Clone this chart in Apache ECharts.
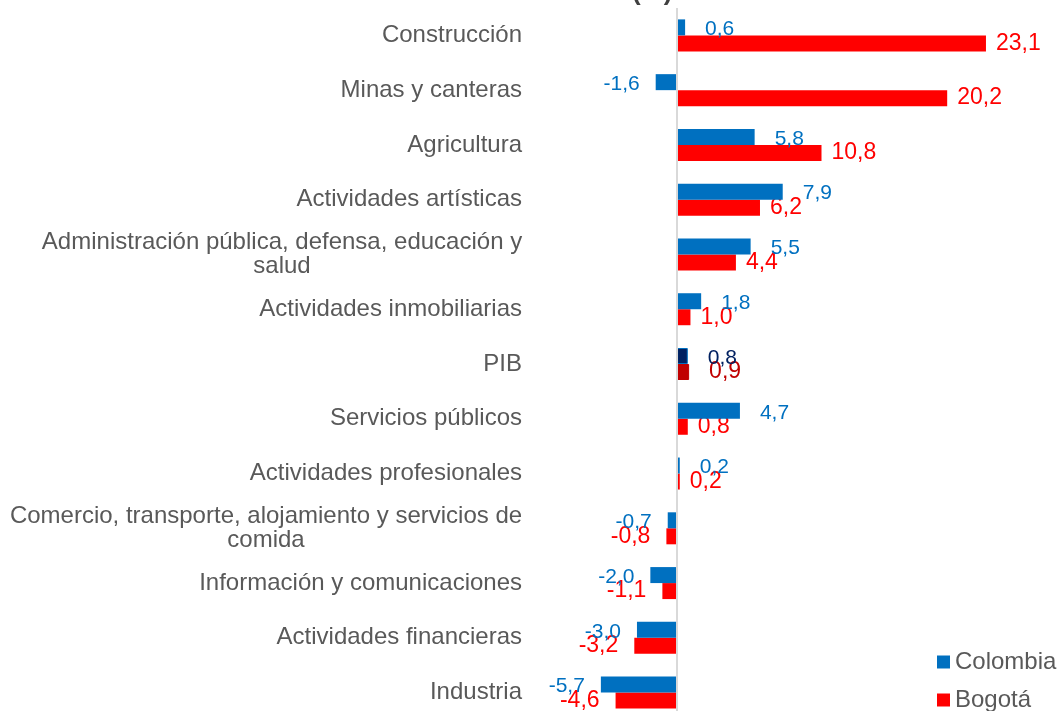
<!DOCTYPE html>
<html>
<head>
<meta charset="utf-8">
<script src="https://cdn.jsdelivr.net/npm/echarts@6/dist/echarts.min.js"></script>
<style>
  html, body { margin: 0; padding: 0; background: #fff; }
  #main { width: 1058px; height: 711px; }
</style>
</head>
<body>
<div id="main"></div>
<script>
// categorías (de arriba a abajo)
var categorias = [
  'Construcción',
  'Minas y canteras',
  'Agricultura',
  'Actividades artísticas',
  'Administración pública, defensa, educación y\nsalud',
  'Actividades inmobiliarias',
  'PIB',
  'Servicios públicos',
  'Actividades profesionales',
  'Comercio, transporte, alojamiento y servicios de\ncomida',
  'Información y comunicaciones',
  'Actividades financieras',
  'Industria'
];
var colombia = [0.6, -1.6, 5.8, 7.9, 5.5, 1.8, 0.8, 4.7, 0.2, -0.7, -2.0, -3.0, -5.7];
var bogota = [23.1, 20.2, 10.8, 6.2, 4.4, 1.0, 0.9, 0.8, 0.2, -0.8, -1.1, -3.2, -4.6];

var AZUL = '#0070C0', ROJO = '#FF0000';
var FUENTE = 'Liberation Sans, Arial, sans-serif';
var fmt = function (p) { return p.value.toFixed(1).replace('.', ','); };

// etiquetas de dos lineas: centradas entre si, alineadas a la derecha
var anchos = { 4: 480, 9: 512 };
var catData = categorias.map(function (c, i) {
  if (anchos[i]) {
    return { value: c, textStyle: { align: 'center', padding: [0, anchos[i], 0, 0] } };
  }
  return c;
});

function serie(vals, color, pibColor, fontSize, posDist, dy, border) {
  return vals.map(function (v, i) {
    var esPib = categorias[i] === 'PIB';
    var item = {
      value: v,
      label: {
        position: v < 0 ? 'left' : 'right',
        distance: v < 0 ? 16 : (esPib ? 20 : posDist),
        offset: [0, dy],
        color: esPib ? pibColor : color,
        fontSize: fontSize
      }
    };
    if (esPib) {
      item.itemStyle = { color: pibColor, borderColor: border ? AZUL : pibColor, borderWidth: 1 };
    }
    return item;
  });
}

var myChart = echarts.init(document.getElementById('main'));
myChart.setOption({
  animation: false,
  textStyle: { fontFamily: FUENTE },
  graphic: [{
    type: 'text', left: 632, top: -20,
    style: { text: '(%)', fontSize: 26, fontWeight: 'bold', fill: '#404040', fontFamily: FUENTE }
  }],
  grid: { left: 530, right: 60, top: 8, height: 712, outerBoundsMode: 'none' },
  legend: [
    {
      orient: 'vertical', left: 937, top: 650, padding: 0,
      itemWidth: 13, itemHeight: 13, icon: 'rect',
      textStyle: { fontSize: 24, color: '#595959' },
      data: ['Colombia']
    },
    {
      orient: 'vertical', left: 937, top: 688, padding: 0,
      itemWidth: 13, itemHeight: 13, icon: 'rect',
      textStyle: { fontSize: 24, color: '#595959' },
      data: ['Bogotá']
    }
  ],
  xAxis: {
    type: 'value', min: -11, max: 24, show: false
  },
  yAxis: {
    type: 'category',
    inverse: true,
    data: catData,
    axisLine: { show: false, onZero: false },
    axisTick: { show: false },
    axisLabel: { interval: 0, fontSize: 24, color: '#595959', margin: 8, lineHeight: 24 }
  },
  series: [
    {
      name: 'Colombia', type: 'bar',
      barWidth: 16, barGap: '0%',
      itemStyle: { color: AZUL },
      label: { show: true, formatter: fmt },
      data: serie(colombia, AZUL, '#002060', 21, 20, 2, true),
      markLine: {
        silent: true, symbol: 'none',
        label: { show: false },
        lineStyle: { color: '#D9D9D9', width: 2, type: 'solid' },
        data: [{ xAxis: 0 }]
      },
      z: 3
    },
    {
      name: 'Bogotá', type: 'bar',
      barWidth: 16, barGap: '0%',
      itemStyle: { color: ROJO },
      label: { show: true, formatter: fmt },
      data: serie(bogota, ROJO, '#C00000', 23, 10, 0, false),
      z: 2
    }
  ]
});
</script>
</body>
</html>
